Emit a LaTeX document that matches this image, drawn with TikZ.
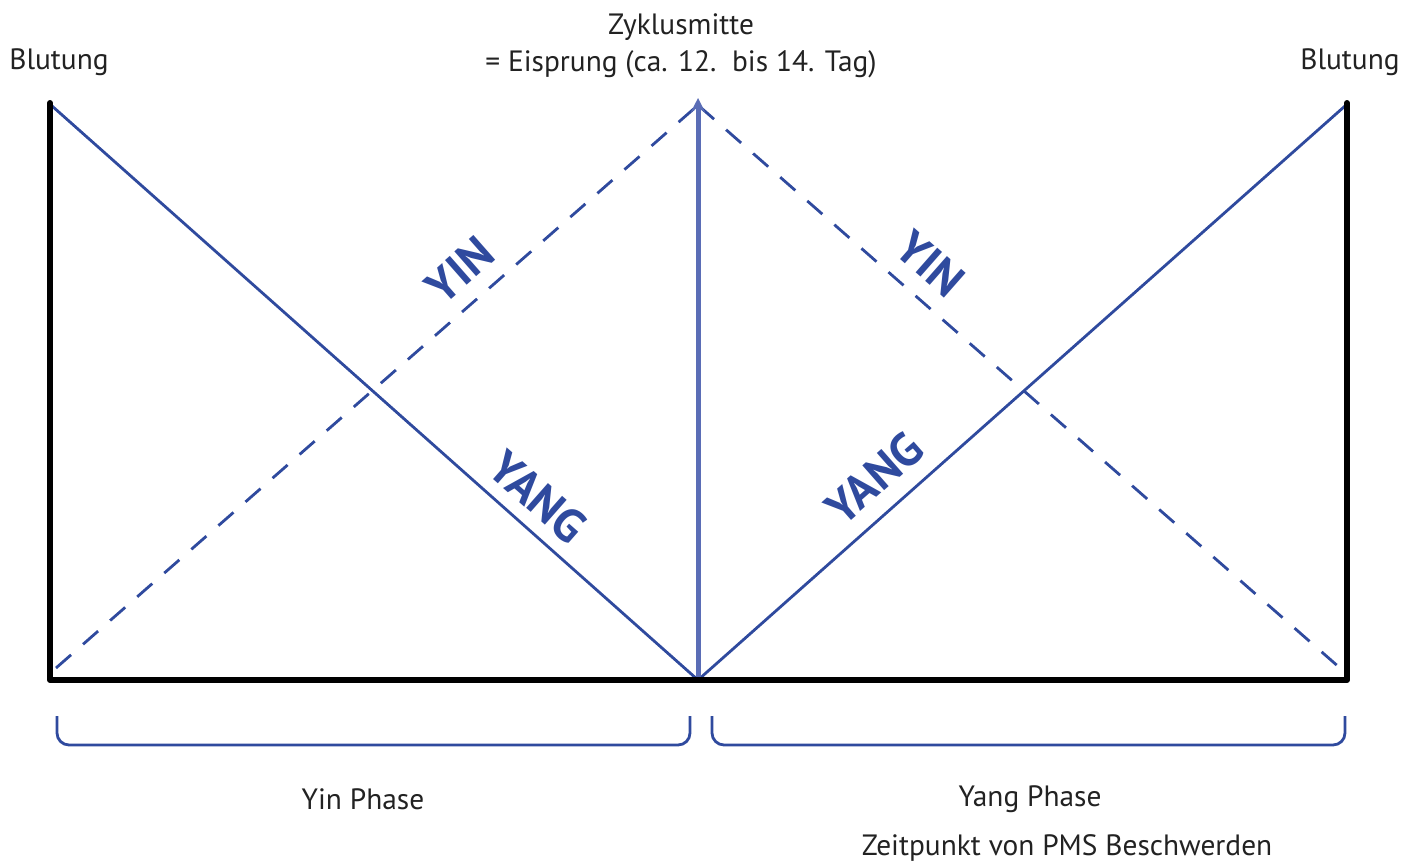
\documentclass[tikz,border=0pt]{standalone}
\usepackage{fontspec}
\setmainfont{PT Sans}
\usetikzlibrary{arrows.meta}
\definecolor{lineblue}{HTML}{2F4A9E}
\definecolor{arrowblue}{HTML}{5A6DB6}
\definecolor{txt}{HTML}{222222}
\begin{document}
\begin{tikzpicture}[x=1bp,y=-1bp,
  frame/.style={line width=6bp, black, line cap=round, line join=round},
  solidblue/.style={line width=2.8bp, lineblue},
  dashblue/.style={line width=2.8bp, lineblue, dash pattern=on 20bp off 16bp},
  bracket/.style={line width=2.8bp, lineblue, rounded corners=12bp},
  lbl/.style={text=txt, font=\fontsize{29.5}{34}\selectfont, inner sep=0pt},
  yy/.style={text=lineblue, font=\bfseries\fontsize{47}{50}\selectfont, inner sep=0pt}]
\useasboundingbox (0,0) rectangle (1416,863);
\coordinate (TL) at (50,103);
\coordinate (BL) at (50,680);
\coordinate (BR) at (1347,680);
\coordinate (TR) at (1347,103);
\coordinate (M) at (698,680);
\coordinate (MT) at (698,98);
% blue lines
\draw[solidblue] (52,106) -- (M);
\draw[solidblue] (M) -- (1345,106);
\draw[dashblue] (56,668) -- (697,106);
\draw[dashblue] (699,106) -- (1340,668);
% center arrow
\draw[line width=5bp, arrowblue, -{Stealth[length=14bp,width=14bp]}] (M) -- (MT);
% frame
\draw[frame] (TL) -- (BL) -- (BR) -- (TR);
% brackets
\draw[bracket] (57,716) -- (57,745) -- (690,745) -- (690,716);
\draw[bracket] (712,716) -- (712,745) -- (1345,745) -- (1345,716);
% labels
\node[lbl] (b1) at (59,62) {Blutung};
\node[lbl] (b2) at (1350,62) {Blutung};
\node[lbl] (z1) at (681,27) {Zyklusmitte};
\node[lbl] (z2) at (681,64) {= Eisprung (ca. 12.\ \ bis 14. Tag)};
\node[lbl] (p1) at (363,799) {Yin Phase};
\node[lbl] (p2) at (1030,799) {Yang Phase};
\node[lbl] (p3) at (1067,848) {Zeitpunkt von PMS Beschwerden};
\node[yy, rotate=41.3] (yin1) at (460,270) {YIN};
\node[yy, rotate=-41.3] (yang1) at (538,497) {YANG};
\node[yy, rotate=-41.3] (yin2) at (930,264) {YIN};
\node[yy, rotate=41.3] (yang2) at (874,478) {YANG};
\end{tikzpicture}
\end{document}
